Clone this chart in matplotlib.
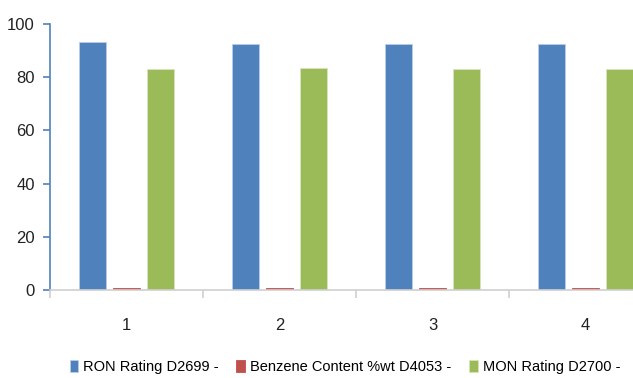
import numpy as np
import matplotlib.pyplot as plt

plt.rcParams['font.family'] = ['Liberation Sans', 'DejaVu Sans']

categories = ['1', '2', '3', '4']
ron = [93.2, 92.5, 92.5, 92.5]
benzene = [0.7, 0.7, 0.7, 0.7]
mon = [83.1, 83.6, 83.1, 83.1]
labels = ['RON Rating D2699 -', 'Benzene Content %wt D4053 -', 'MON Rating D2700 -']
colors = ['#4F81BD', '#C0504D', '#9BBB59']
edges = ['#b9cde5', '#C0504D', '#d7e4bd']

fig = plt.figure(figsize=(6.33, 3.78), dpi=100)
# plot area runs past the right edge, as in the cropped original
ax = fig.add_axes([50 / 633, 1 - 290 / 378, 612 / 633, 266 / 378])

x = np.arange(len(categories))
w = 0.176
off = 0.225
for i, (vals, lab, c, e) in enumerate(zip([ron, benzene, mon], labels, colors, edges)):
    ax.bar(x + (i - 1) * off, vals, w, color=c, label=lab,
           edgecolor=e, linewidth=0.6)

ax.set_xlim(-0.5, len(categories) - 0.5)
ax.set_ylim(0, 100)
ax.set_yticks(range(0, 101, 20))
ax.set_xticks(x)
ax.set_xticklabels(categories)
ax.set_xticks(np.arange(-0.5, len(categories), 1), minor=True)

for s in ['top', 'right']:
    ax.spines[s].set_visible(False)
ax.spines['left'].set_color('#4F81BD')
ax.spines['left'].set_linewidth(1.2)
ax.spines['bottom'].set_color('#d0d0d0')
ax.spines['bottom'].set_linewidth(1.2)

ax.tick_params(axis='y', colors='#4F81BD', labelcolor='#222222', labelsize=12,
               length=5, width=1.2, pad=6)
ax.tick_params(axis='x', which='major', length=0, labelsize=12,
               labelcolor='#222222', pad=20)
ax.tick_params(axis='x', which='minor', length=6, color='#d0d0d0', width=1.2)

fig.legend(loc='center', bbox_to_anchor=(0.545, 0.03), ncol=3, frameon=False,
           fontsize=10.5, handlelength=0.6, handleheight=0.9, handletextpad=0.35,
           columnspacing=1.2)

fig.savefig('out.png', dpi=100)
